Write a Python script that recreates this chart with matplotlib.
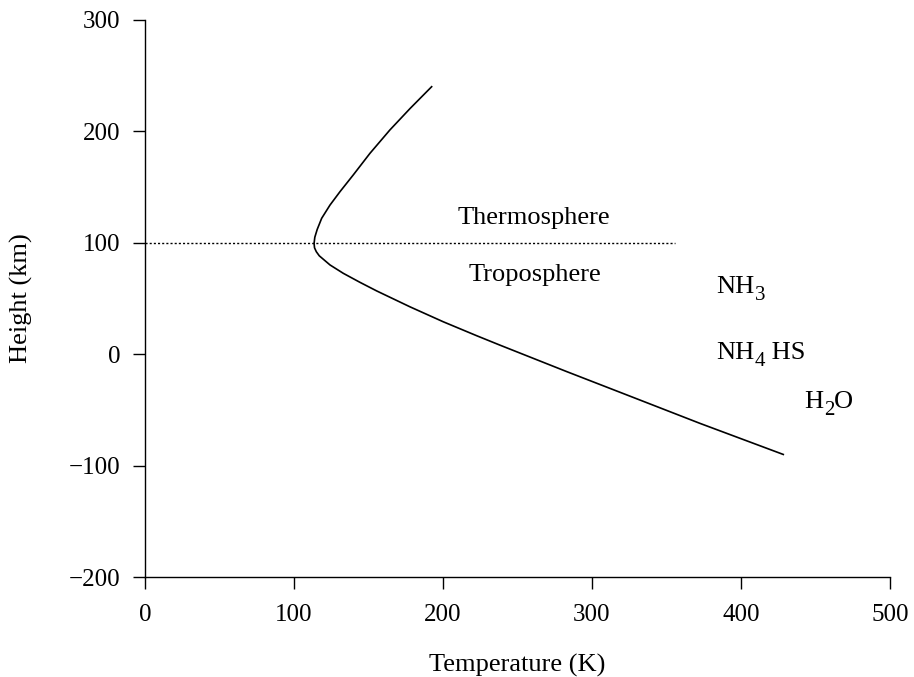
import matplotlib
matplotlib.use("Agg")
import matplotlib.pyplot as plt

# 温度プロファイル (K, km)
temp = [192.4, 177.9, 164.4, 151.0, 139.8, 130.9, 124.2, 118.6, 115.6, 114.0,
        113.5, 113.8, 115.0, 117.0, 124.2, 133.1, 144.3, 155.5, 177.9, 200.2,
        222.6, 238.3, 283.0, 327.7, 372.5, 428.4]
height = [240.1, 220.5, 201.3, 180.3, 160.9, 145.9, 133.9, 122.0, 112.0, 105.0,
          99.5, 95.5, 92.0, 88.3, 80.1, 72.6, 64.5, 56.8, 42.5, 29.1,
          16.6, 8.1, -15.6, -38.8, -62.1, -90.0]

# 境界線 (tropopause)
boundary_h = 100
boundary_t = [0, 356]

# 領域名
region_labels = ["Thermosphere", "Troposphere"]
region_t = [260.7, 261.7]
region_h = [117, 66]

# 雲の層 (本文, 下付き, 続き)
cloud_parts = [("NH", "3", ""), ("NH", "4", " HS"), ("H", "2", "O")]
cloud_t = [383.2, 383.2, 442.3]
cloud_h = [55, -4.3, -48.3]

plt.rcParams["font.family"] = ["Liberation Serif", "DejaVu Serif"]
plt.rcParams["font.size"] = 19

fig = plt.figure(figsize=(9.14, 6.77), dpi=100)
ax = fig.add_axes([0.1586, 0.1477, 0.8151, 0.8228])

ax.plot(temp, height, color="black", lw=1.2)
ax.plot(boundary_t, [boundary_h, boundary_h], color="black", lw=1.0, linestyle=(0, (1.5, 1.5)))

for s, t, h in zip(region_labels, region_t, region_h):
    ax.text(t, h, s, ha="center", va="baseline", fontsize=19)

#下付き文字は前の文字の右に続け、y は data 座標で基準線から下げる
for (base, sub, rest), t, h in zip(cloud_parts, cloud_t, cloud_h):
    t1 = ax.text(t, h, base, ha="left", va="baseline", fontsize=19)
    t2 = ax.annotate(sub, xy=(1, h), xycoords=(t1, "data"), xytext=(0.5, -5.3),
                     textcoords="offset points", ha="left", va="baseline", fontsize=15)
    if rest:
        ax.annotate(rest, xy=(1, h), xycoords=(t2, "data"), xytext=(0, 0),
                    textcoords="offset points", ha="left", va="baseline", fontsize=19)

ax.set_xlim(0, 500)
ax.set_ylim(-200, 300)
ax.set_xticks([0, 100, 200, 300, 400, 500])
ax.set_yticks([-200, -100, 0, 100, 200, 300])
ax.set_yticklabels(["\u2212200", "\u2212100", "0", "100", "200", "300"])
ax.spines["top"].set_visible(False)
ax.spines["right"].set_visible(False)
ax.spines["left"].set_linewidth(1.0)
ax.spines["bottom"].set_linewidth(1.0)
ax.tick_params(direction="out", length=8.5, width=1, labelsize=18)
ax.tick_params(axis="y", pad=9)
ax.tick_params(axis="x", pad=11)
ax.set_xlabel("Temperature (K)", labelpad=20)
ax.set_ylabel("Height (km)", labelpad=26)

fig.savefig("out.png", dpi=100)
